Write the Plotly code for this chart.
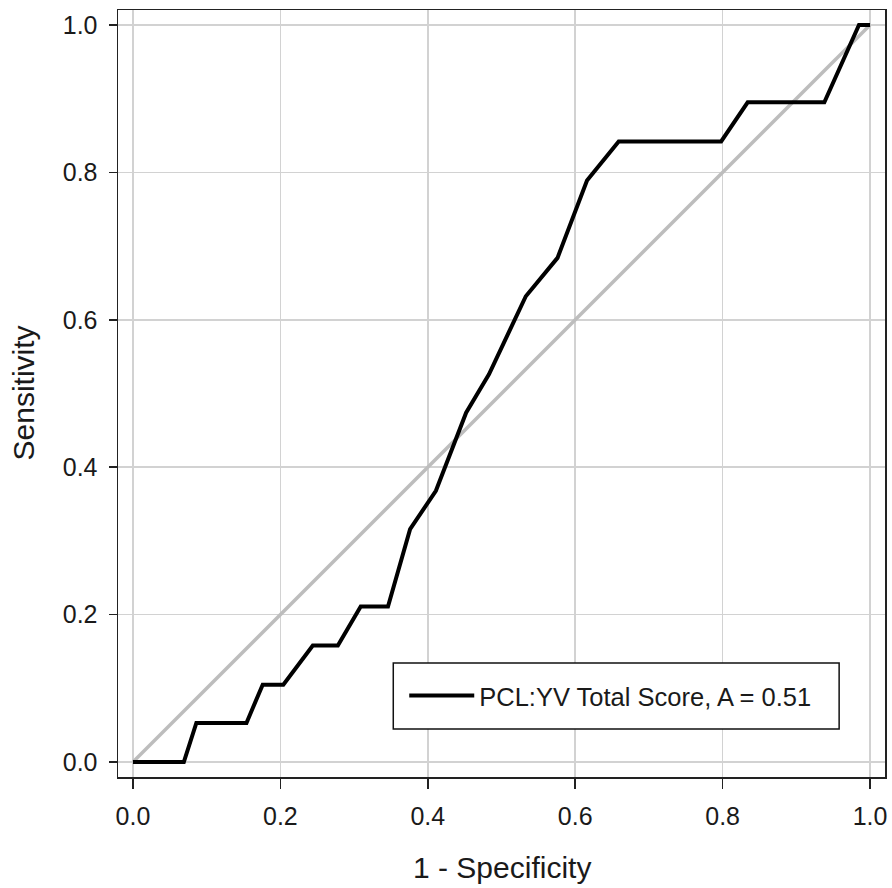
import plotly.graph_objects as go

# ROC curve points
fpr = [0.0, 0.069, 0.086, 0.154, 0.176, 0.204, 0.244, 0.278, 0.309, 0.346,
       0.376, 0.411, 0.452, 0.483, 0.533, 0.576, 0.616, 0.659, 0.798, 0.834,
       0.938, 0.985, 1.0]
tpr = [0.0, 0.0, 0.053, 0.053, 0.105, 0.105, 0.158, 0.158, 0.211, 0.211,
       0.316, 0.368, 0.474, 0.526, 0.632, 0.684, 0.789, 0.842, 0.842, 0.895,
       0.895, 1.0, 1.0]
chance_x = [0.0, 1.0]
chance_y = [0.0, 1.0]
tick_vals = [0.0, 0.2, 0.4, 0.6, 0.8, 1.0]
series_name = "PCL:YV Total Score, A = 0.51"
x_title = "1 - Specificity"
y_title = "Sensitivity"

FONT = "Liberation Sans, Arial, Helvetica, sans-serif"
TXT = "#1a1a1a"

fig = go.Figure()
fig.add_trace(go.Scatter(x=chance_x, y=chance_y, mode="lines",
                         line=dict(color="#bdbdbd", width=3.5),
                         showlegend=False, hoverinfo="skip"))
fig.add_trace(go.Scatter(x=fpr, y=tpr, mode="lines", name=series_name,
                         line=dict(color="#000000", width=4)))

axis_common = dict(
    range=[-0.0203, 1.0203],
    tickvals=tick_vals,
    tickformat=".1f",
    showgrid=True, gridcolor="#d2d2d2", gridwidth=1.5,
    zeroline=False,
    showline=True, linecolor="#222222", linewidth=1.5, mirror=True,
    ticks="outside", tickcolor="#222222", tickwidth=1.5,
    tickfont=dict(family=FONT, size=25, color=TXT),
)

fig.update_xaxes(**axis_common, ticklen=10, ticklabelstandoff=6)
fig.update_yaxes(**axis_common, ticklen=8, ticklabelstandoff=6)

fig.update_layout(
    width=892, height=888,
    margin=dict(l=118, r=5, t=10, b=111),
    paper_bgcolor="white", plot_bgcolor="white",
    font=dict(family=FONT, color=TXT),
    showlegend=True,
    legend=dict(
        x=0.3732, y=0.1056, xanchor="left", yanchor="middle",
        bgcolor="rgba(0,0,0,0)", borderwidth=0,
        font=dict(family=FONT, size=25.5, color=TXT),
        itemwidth=65,
    ),
    shapes=[
        # legend frame
        dict(type="rect", xref="paper", yref="paper",
             x0=0.3589, x1=0.9402, y0=0.0626, y1=0.1486,
             fillcolor="white", line=dict(color="#111111", width=1.5),
             layer="above"),
    ],
    annotations=[
        dict(text=x_title, xref="paper", yref="paper", x=0.5, y=0,
             yshift=-90, xanchor="center", yanchor="middle", showarrow=False,
             font=dict(family=FONT, size=30, color=TXT)),
        dict(text=y_title, xref="paper", yref="paper", x=0, y=0.5,
             xshift=-95, xanchor="center", yanchor="middle", showarrow=False,
             textangle=-90,
             font=dict(family=FONT, size=30, color=TXT)),
    ],
)

fig.write_html(
    "out.html",
    config={"displayModeBar": False, "staticPlot": True},
    post_script="document.body.style.margin='0';document.body.style.overflow='hidden';",
)
